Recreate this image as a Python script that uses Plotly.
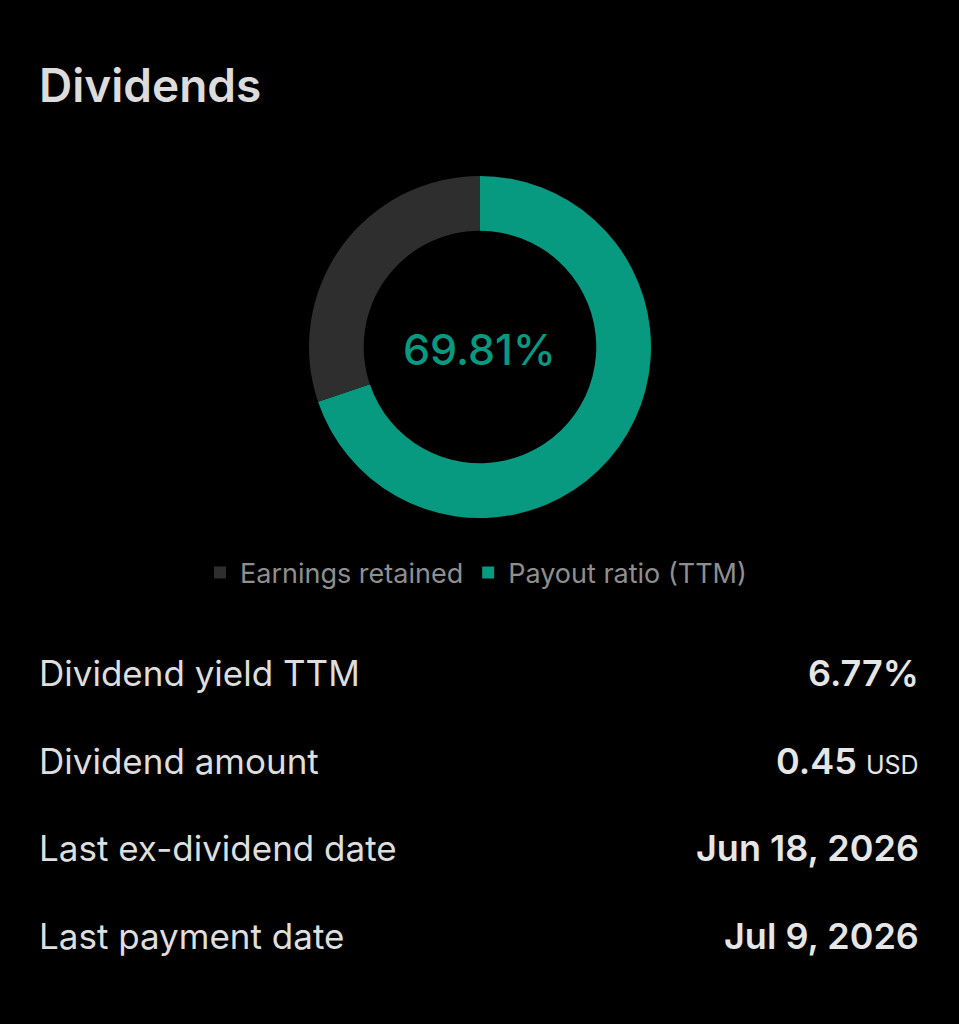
import plotly.graph_objects as go

W, H = 959, 1024

# ---- data ----
slice_labels = ["Earnings retained", "Payout ratio (TTM)"]
slice_values = [30.19, 69.81]
slice_colors = ["#2e2e2e", "#089981"]
center_text = "69.81%"

title = "Dividends"
row_labels = ["Dividend yield TTM", "Dividend amount", "Last ex-dividend date", "Last payment date"]
row_values = ["6.77%", "0.45", "Jun 18, 2026", "Jul 9, 2026"]
row_units = ["", "USD", "", ""]

FONT = "Inter"

fig = go.Figure()
# payout slice drawn first (clockwise from 12 o'clock), legend order reversed
fig.add_trace(go.Pie(
    labels=slice_labels[::-1],
    values=slice_values[::-1],
    marker=dict(colors=slice_colors[::-1], line=dict(width=0)),
    hole=0.68,
    sort=False,
    direction="clockwise",
    rotation=0,
    textinfo="none",
    hoverinfo="label+percent",
    domain=dict(x=[309 / W, 651 / W], y=[1 - 518 / H, 1 - 176 / H]),
    showlegend=True,
))

def py(pix):
    return 1 - pix / H

annotations = []
annotations.append(dict(text=title, x=37 / W, y=py(85), xref="paper", yref="paper",
                        xanchor="left", yanchor="middle", showarrow=False,
                        font=dict(family=FONT, size=46, color="#dcdcdc", weight=600)))
annotations.append(dict(text=center_text, x=479 / W, y=py(349), xref="paper", yref="paper",
                        xanchor="center", yanchor="middle", showarrow=False,
                        font=dict(family=FONT, size=43, color=slice_colors[1], weight=500)))

row_y = [673, 761, 848, 936]
for lab, val, unit, yy in zip(row_labels, row_values, row_units, row_y):
    annotations.append(dict(text=lab, x=37 / W, y=py(yy), xref="paper", yref="paper",
                            xanchor="left", yanchor="middle", showarrow=False,
                            font=dict(family=FONT, size=35, color="#dedede")))
    txt = val if not unit else f"{val} <span style='font-size:25px;font-weight:400'>{unit}</span>"
    annotations.append(dict(text=txt, x=921 / W, y=py(yy), xref="paper", yref="paper",
                            xanchor="right", yanchor="middle", showarrow=False,
                            font=dict(family=FONT, size=36, color="#e6e6e6", weight=600)))

fig.update_layout(
    width=W, height=H,
    margin=dict(l=0, r=0, t=0, b=0),
    paper_bgcolor="#000000",
    plot_bgcolor="#000000",
    annotations=annotations,
    legend=dict(orientation="h", x=476 / W, xanchor="center", y=py(573), yanchor="middle",
                traceorder="reversed",
                font=dict(family=FONT, size=27, color="#8f8f8f"),
                bgcolor="rgba(0,0,0,0)", itemclick=False, itemdoubleclick=False),
)

fig.write_html("out.html", config={"displayModeBar": False},
               post_script="document.body.style.margin='0';document.body.style.background='#000';")
